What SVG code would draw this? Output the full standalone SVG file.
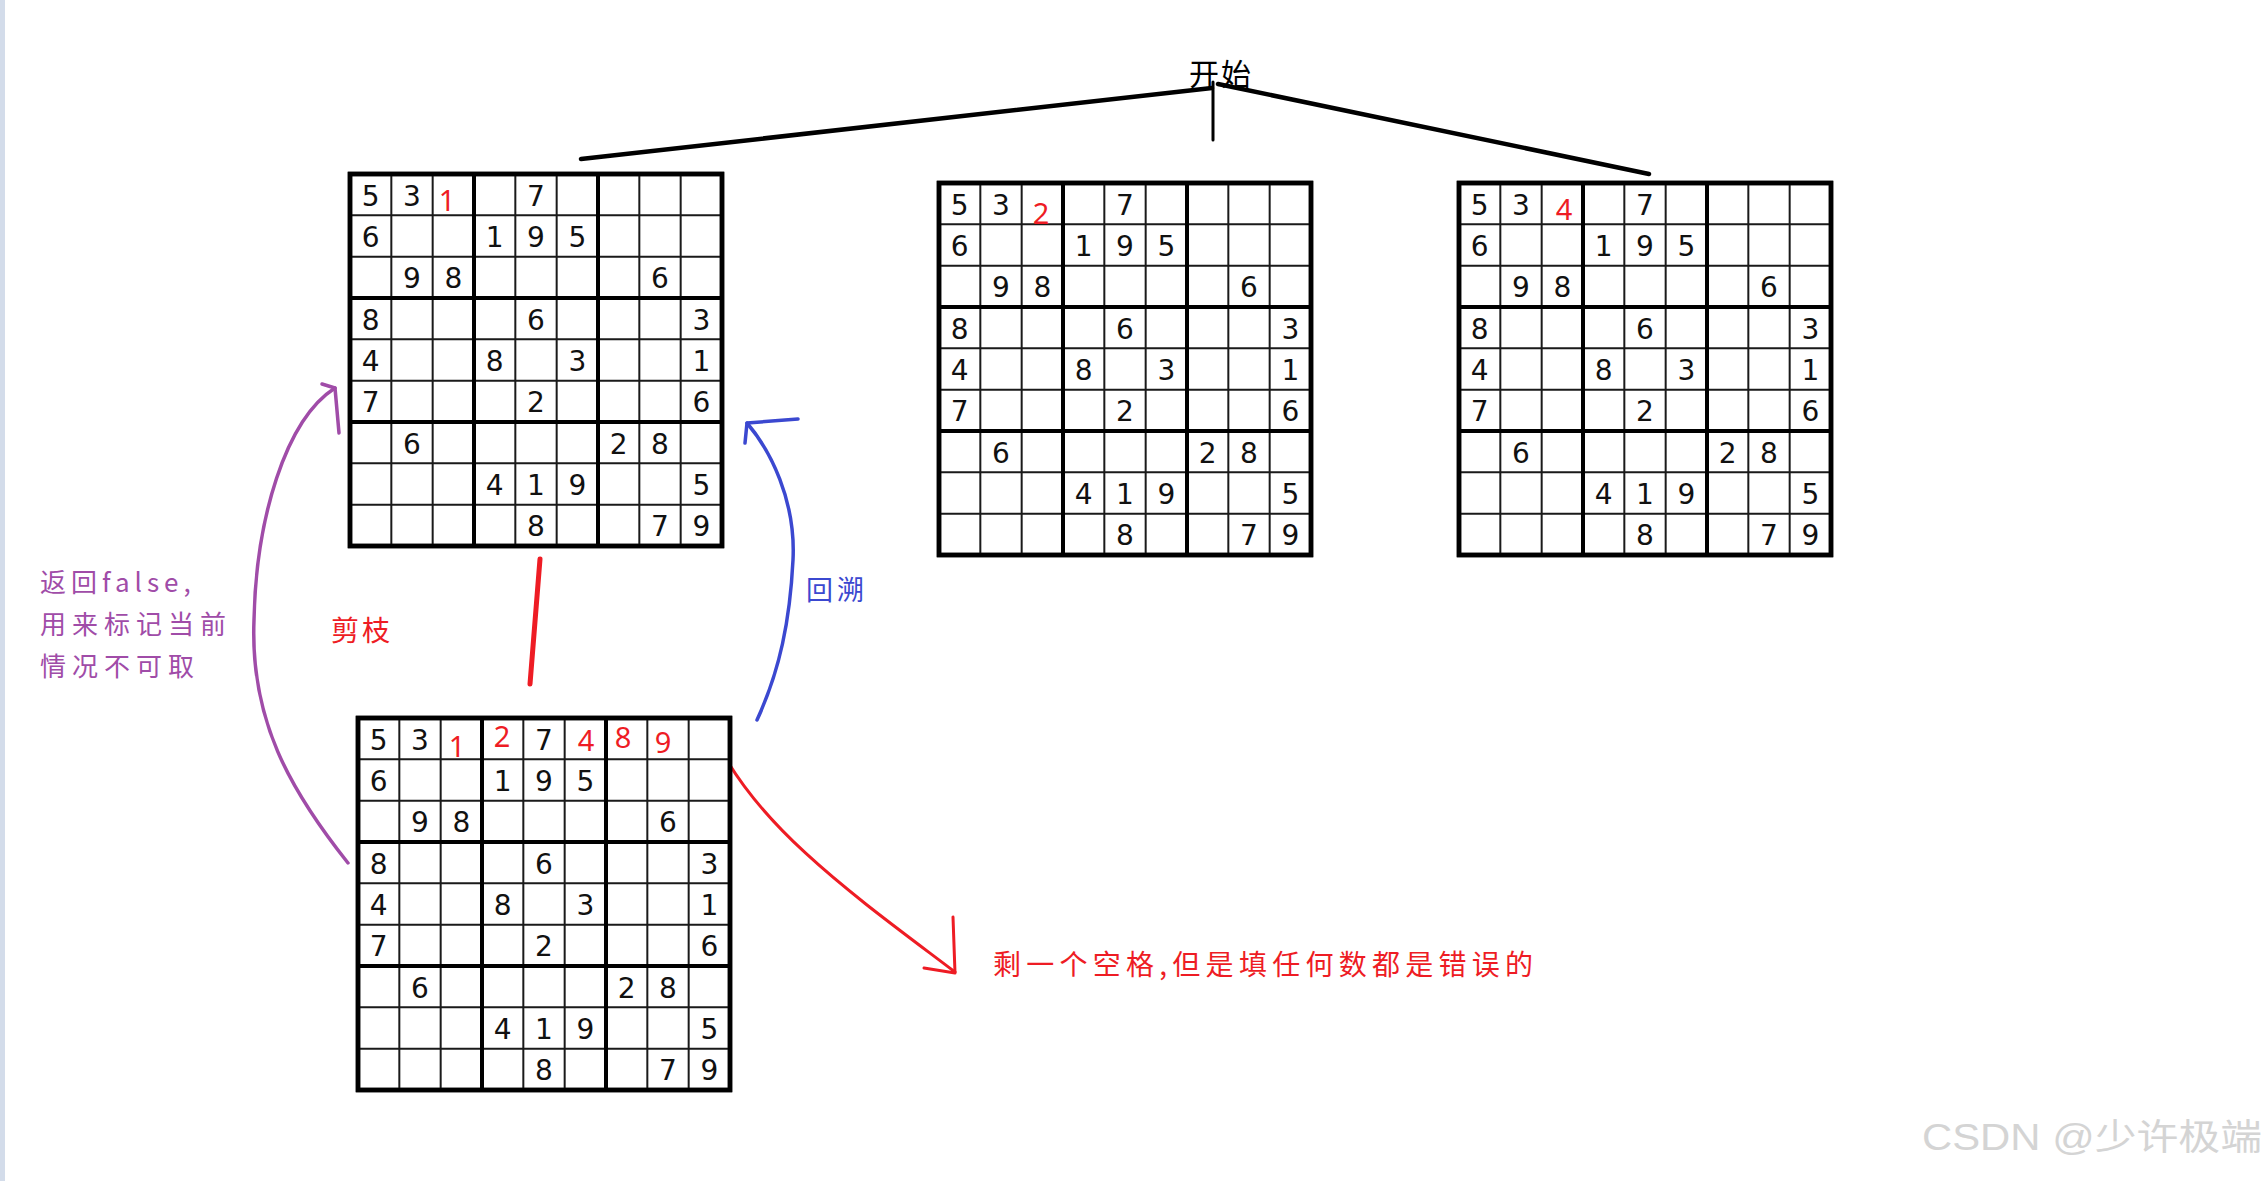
<svg xmlns="http://www.w3.org/2000/svg" xmlns:xlink="http://www.w3.org/1999/xlink" width="2268" height="1181" viewBox="0 0 2268 1181">
<style>
.thin{stroke:#1a1a1a;stroke-width:2;fill:none}
.thick{stroke:#000;stroke-width:4;fill:none}
.outer{stroke:#000;stroke-width:4.5;fill:#fff}
.d{font-family:"DejaVu Sans",sans-serif;font-size:28px;fill:#111;text-anchor:middle}
.r{font-family:"Noto Sans","Liberation Sans",sans-serif;font-size:29px;fill:#ee1c24;text-anchor:middle}
.cjk{font-family:"Noto Sans CJK SC",sans-serif}
.line{stroke:#000;fill:none;stroke-linecap:round}
.pur{stroke:#a04ca8;stroke-width:3.5;fill:none;stroke-linecap:round;stroke-linejoin:round}
.blu{stroke:#3b48d0;stroke-width:3.5;fill:none;stroke-linecap:round;stroke-linejoin:round}
.red{stroke:#ee1c24;stroke-width:3;fill:none;stroke-linecap:round;stroke-linejoin:round}
</style>
<defs>
<g id="board">
<rect class="outer" x="0" y="0" width="372" height="372"/>
<path class="thin" d="M41.33,0V372M82.67,0V372M165.33,0V372M206.67,0V372M289.33,0V372M330.67,0V372M0,41.33H372M0,82.67H372M0,165.33H372M0,206.67H372M0,289.33H372M0,330.67H372"/>
<path class="thick" d="M124,0V372M248,0V372M0,124H372M0,248H372"/>
<rect x="0" y="0" width="372" height="372" fill="none" stroke="#000" stroke-width="4.5"/>
<g class="d">
<text x="20.67" y="31.5">5</text><text x="62" y="31.5">3</text><text x="186" y="31.5">7</text>
<text x="20.67" y="72.8">6</text><text x="144.67" y="72.8">1</text><text x="186" y="72.8">9</text><text x="227.33" y="72.8">5</text>
<text x="62" y="114.2">9</text><text x="103.33" y="114.2">8</text><text x="310" y="114.2">6</text>
<text x="20.67" y="155.5">8</text><text x="186" y="155.5">6</text><text x="351.33" y="155.5">3</text>
<text x="20.67" y="196.8">4</text><text x="144.67" y="196.8">8</text><text x="227.33" y="196.8">3</text><text x="351.33" y="196.8">1</text>
<text x="20.67" y="238.2">7</text><text x="186" y="238.2">2</text><text x="351.33" y="238.2">6</text>
<text x="62" y="279.5">6</text><text x="268.67" y="279.5">2</text><text x="310" y="279.5">8</text>
<text x="144.67" y="320.8">4</text><text x="186" y="320.8">1</text><text x="227.33" y="320.8">9</text><text x="351.33" y="320.8">5</text>
<text x="186" y="362.2">8</text><text x="310" y="362.2">7</text><text x="351.33" y="362.2">9</text>
</g>
</g>
</defs>

<rect x="0" y="0" width="2268" height="1181" fill="#fff"/>
<rect x="0" y="0" width="5" height="1181" fill="#d3dcea"/>

<g id="connectors">
<path class="line" stroke-width="4.5" d="M581,159 L1212,88"/>
<path class="line" stroke-width="3" d="M1213,82 L1213,140"/>
<path class="line" stroke-width="4.5" d="M1218,84 L1649,174"/>
<path d="M540,559 L530,684" stroke="#ee1c24" stroke-width="5" stroke-linecap="round" fill="none"/>
<path class="pur" d="M348,863 C290,790 250,720 254,620 C256,520 285,420 335,388"/>
<path class="pur" d="M322,384 L335,388 L339,433"/>
<path class="blu" d="M757,720 C780,670 790,620 793,560 C796,500 770,450 747,423"/>
<path class="blu" d="M798,419 L747,423 L745,443"/>
<path class="red" d="M717,742 C760,830 860,900 955,972"/>
<path class="red" d="M953,917 L955,973 L924,968"/>
</g>

<g id="start">
<text class="cjk" x="1189" y="85" font-size="30" fill="#000" textLength="62">开始</text>
</g>

<g id="grid1">
<use xlink:href="#board" transform="translate(350,174)"/>
<text class="r" x="447" y="211">1</text>
</g>

<g id="grid2">
<use xlink:href="#board" transform="translate(939,183)"/>
<text class="r" x="1041" y="224">2</text>
</g>

<g id="grid3">
<use xlink:href="#board" transform="translate(1459,183)"/>
<text class="r" x="1564" y="220">4</text>
</g>

<g id="grid4">
<use xlink:href="#board" transform="translate(358,718)"/>
<text class="r" x="457" y="757">1</text>
<text class="r" x="502" y="747">2</text>
<text class="r" x="586" y="751">4</text>
<text class="r" x="623" y="748">8</text>
<text class="r" x="663" y="753">9</text>
</g>

<g id="labels">
<g class="cjk" fill="#a04ca8" font-size="26">
<text x="40" y="592" letter-spacing="5">返回false,</text>
<text x="40" y="634" letter-spacing="6">用来标记当前</text>
<text x="40" y="676" letter-spacing="6">情况不可取</text>
</g>
<text class="cjk" x="331" y="641" font-size="28" fill="#ee1c24" letter-spacing="3">剪枝</text>
<text class="cjk" x="806" y="600" font-size="27" fill="#3b48d0" letter-spacing="4">回溯</text>
<text class="cjk" x="993" y="975" font-size="28" fill="#ee1c24" textLength="540">剩一个空格,但是填任何数都是错误的</text>
</g>

<text x="1922" y="1150" font-family="Liberation Sans,Noto Sans CJK SC,sans-serif" font-size="36" fill="#d4d4d4" textLength="340" lengthAdjust="spacingAndGlyphs">CSDN @少许极端</text>
</svg>
